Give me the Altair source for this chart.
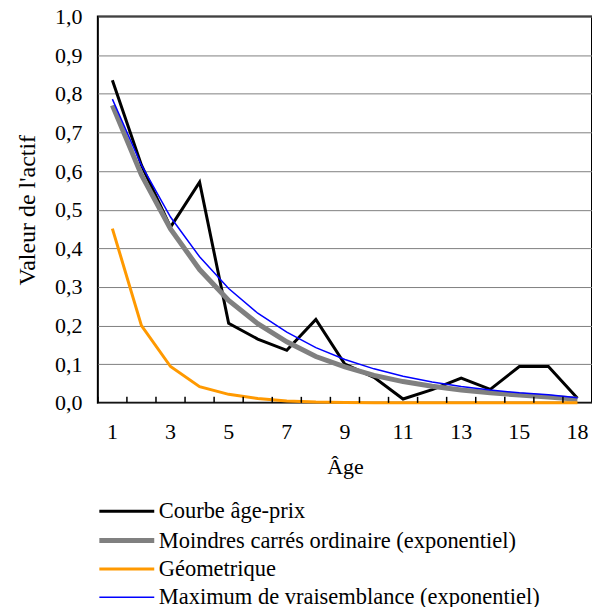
import altair as alt
import pandas as pd

# Categories (age 17 absent in the data)
ages = ["1", "2", "3", "4", "5", "6", "7", "8", "9", "10", "11", "12", "13", "14", "15", "16", "18"]
shown_labels = ["1", "3", "5", "7", "9", "11", "13", "15", "18"]

series_names = [
    "Courbe âge-prix",
    "Moindres carrés ordinaire (exponentiel)",
    "Géometrique",
    "Maximum de vraisemblance (exponentiel)",
]
courbe = [0.835, 0.615, 0.455, 0.571, 0.206, 0.165, 0.136, 0.216, 0.100, 0.066, 0.010, 0.034, 0.064, 0.035, 0.094, 0.094, 0.012]
mco = [0.770, 0.590, 0.450, 0.345, 0.265, 0.205, 0.158, 0.120, 0.093, 0.071, 0.055, 0.043, 0.033, 0.026, 0.020, 0.015, 0.009]
geom = [0.451, 0.200, 0.094, 0.042, 0.022, 0.011, 0.005, 0.002, 0.001, 0.0, 0.0, 0.0, 0.0, 0.0, 0.0, 0.0, 0.0]
mv = [0.786, 0.615, 0.481, 0.378, 0.296, 0.232, 0.183, 0.143, 0.112, 0.088, 0.069, 0.054, 0.042, 0.033, 0.026, 0.021, 0.013]
y_ticks = [0.0, 0.1, 0.2, 0.3, 0.4, 0.5, 0.6, 0.7, 0.8, 0.9, 1.0]

colors = ["#000000", "#808080", "#FF9900", "#0000FF"]
widths = [3, 5, 3, 1.5]

rows = []
for name, vals in zip(series_names, [courbe, mco, geom, mv]):
    for i, (a, v) in enumerate(zip(ages, vals)):
        rows.append({"age": a, "idx": i, "serie": name, "valeur": v})
df = pd.DataFrame(rows)
ticks_df = pd.DataFrame({"age": ages})

W, H = 495, 387
FONT = "Liberation Serif"
FS = 22
FS_LEG = 22.5

xscale = alt.Scale(type="band", domain=ages, paddingInner=0, paddingOuter=0)

label_expr = "indexof([" + ",".join("'" + s + "'" for s in shown_labels) + "], datum.label) >= 0 ? datum.label : ''"


def make_legend():
    return alt.Legend(title=None, orient="none", legendX=-1, legendY=484,
                      direction="vertical", symbolType="M-1,0H4.5",
                      symbolSize=400, labelFont=FONT, labelFontSize=FS_LEG,
                      labelColor="#000000", labelLimit=600, rowPadding=5.5,
                      labelOffset=37, padding=0, symbolFillColor="transparent")


lines = alt.Chart(df).mark_line(strokeCap="butt", strokeJoin="miter").encode(
    x=alt.X("age:O", scale=xscale, bandPosition=0.5,
            axis=alt.Axis(title="Âge", bandPosition=0.5, ticks=False, labelExpr=label_expr,
                          labelAngle=0, labelPadding=19, titlePadding=14, grid=False,
                          domain=False, labelOverlap=False)),
    y=alt.Y("valeur:Q", scale=alt.Scale(domain=[0, 1]),
            axis=alt.Axis(title="Valeur de l'actif", values=y_ticks,
                          labelExpr="replace(format(datum.value, '.1f'), '.', ',')",
                          ticks=False, domain=False, grid=True, gridColor="#808080",
                          gridWidth=1, labelPadding=16, titlePadding=15, titleFontSize=24)),
    color=alt.Color("serie:N", scale=alt.Scale(domain=series_names, range=colors),
                    legend=make_legend()),
    strokeWidth=alt.StrokeWidth("serie:N",
                                scale=alt.Scale(type="ordinal", domain=series_names, range=widths),
                                legend=make_legend()),
    order=alt.Order("idx:Q"),
)

xticks = alt.Chart(ticks_df).mark_rule(color="#000000", strokeWidth=1.5).encode(
    x=alt.X("age:O", scale=xscale, bandPosition=0),
    y=alt.value(H - 6),
    y2=alt.value(H),
)

chart = alt.layer(lines, xticks).properties(
    width=W, height=H,
    autosize=alt.AutoSizeParams(type="none"),
    padding={"left": 90, "top": 8, "right": 0, "bottom": 204},
).configure_view(
    stroke="#000000", strokeWidth=2
).configure_axis(
    labelFont=FONT, labelFontSize=FS, labelColor="#000000",
    titleFont=FONT, titleFontSize=FS, titleColor="#000000", titleFontWeight="normal",
).configure_legend(
    labelFont=FONT, labelFontSize=FS_LEG,
)

chart.save("out.html", embed_options={"renderer": "svg", "actions": False})
